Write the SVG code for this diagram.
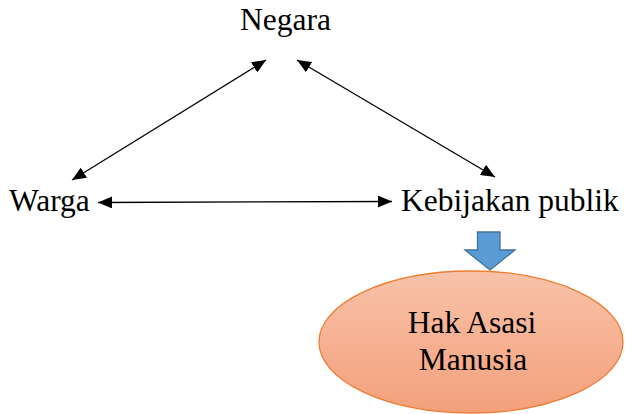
<svg xmlns="http://www.w3.org/2000/svg" width="625" height="414" viewBox="0 0 625 414">
  <style>
    .lbl { font-family: "Liberation Serif", "Times New Roman", serif; font-size: 31.5px; fill: #000; }
    .conn { stroke: #000; stroke-width: 1.3; fill: none; }
  </style>
  <defs>
    <marker id="head" viewBox="0 0 10 10" refX="10" refY="5" markerWidth="14" markerHeight="12" markerUnits="userSpaceOnUse" orient="auto-start-reverse" preserveAspectRatio="none">
      <path d="M0,0 L10,5 L0,10 Z" fill="#000"/>
    </marker>
    <linearGradient id="hamFill" x1="0" y1="0" x2="0" y2="1">
      <stop offset="0" stop-color="#F8C2A8"/>
      <stop offset="1" stop-color="#F4A07C"/>
    </linearGradient>
  </defs>
  <rect width="625" height="414" fill="#fff"/>

  <!-- connectors -->
  <g id="connectors">
    <line class="conn" x1="72" y1="180" x2="266" y2="60" marker-start="url(#head)" marker-end="url(#head)"/>
    <line class="conn" x1="297" y1="60" x2="495" y2="177" marker-start="url(#head)" marker-end="url(#head)"/>
    <line class="conn" x1="98" y1="202.5" x2="392" y2="201.5" marker-start="url(#head)" marker-end="url(#head)"/>
    <path d="M477.5,232 H500 V250 H515 L490,270 L465,250 H477.5 Z" fill="#5B9BD5" stroke="#41719C" stroke-width="1.3"/>
  </g>

  <g id="negara">
    <text class="lbl" x="240" y="30">Negara</text>
  </g>
  <g id="warga">
    <text class="lbl" x="9" y="211">Warga</text>
  </g>
  <g id="kebijakan-publik">
    <text class="lbl" x="401" y="211">Kebijakan publik</text>
  </g>
  <g id="hak-asasi-manusia">
    <ellipse cx="471" cy="342" rx="152" ry="71" fill="url(#hamFill)" stroke="#ED7D31" stroke-width="1.3"/>
    <text class="lbl" x="472" y="333" text-anchor="middle">Hak Asasi</text>
    <text class="lbl" x="473" y="370" text-anchor="middle">Manusia</text>
  </g>
</svg>
